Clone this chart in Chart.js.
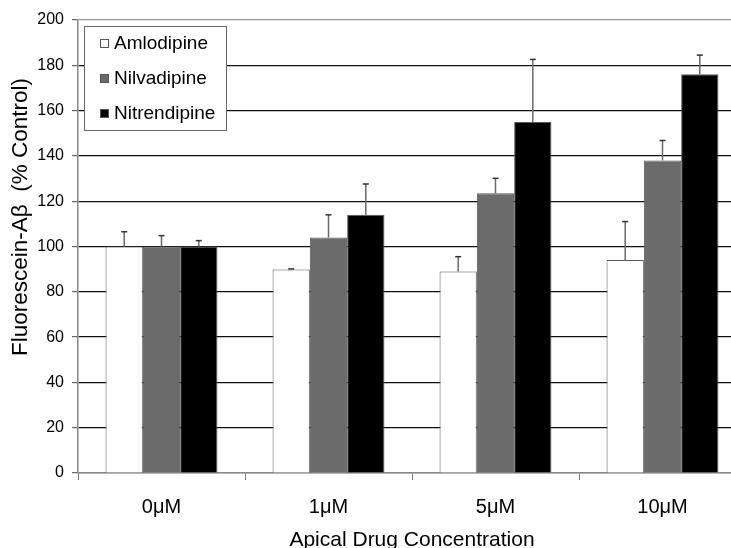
<!DOCTYPE html>
<html>
<head>
<meta charset="utf-8">
<script src="https://cdn.jsdelivr.net/npm/chart.js@4/dist/chart.umd.min.js"></script>
<style>
  html, body { margin: 0; padding: 0; background: #fff; }
  #wrap { width: 731px; height: 548px; overflow: hidden; position: relative; }
  canvas { display: block; }
</style>
</head>
<body>
<div id="wrap"><canvas id="c" width="760" height="548"></canvas></div>
<script>
// Concentrations on the x axis
const categories = ['0\u03bcM', '1\u03bcM', '5\u03bcM', '10\u03bcM'];

// Mean uptake (% of control) per drug
const amlodipine   = [100, 89.8, 89.0, 94.0];
const nilvadipine  = [100, 104.0, 123.5, 138.0];
const nitrendipine = [100, 114.0, 155.0, 176.0];

// Upper error (SD) per drug
const amlodipineErr   = [6.5, 0.3, 6.5, 17.0];
const nilvadipineErr  = [4.8, 10.0, 6.6, 8.8];
const nitrendipineErr = [2.6, 13.6, 27.6, 8.5];

// Value axis ticks
const yTicks = [0, 20, 40, 60, 80, 100, 120, 140, 160, 180, 200];

const yTitle = 'Fluorescein-A\u03b2  (% Control)';
const xTitle = 'Apical Drug Concentration';

const FONT = 'Arial, "Liberation Sans", sans-serif';

// Draws upward-only error bars with caps above each bar
const errorBars = {
  id: 'errorBars',
  afterDatasetsDraw(chart) {
    const ctx = chart.ctx;
    const y = chart.scales.y;
    chart.data.datasets.forEach((ds, i) => {
      const meta = chart.getDatasetMeta(i);
      meta.data.forEach((bar, j) => {
        const top = y.getPixelForValue(ds.data[j] + ds.errors[j]);
        const base = bar.y;
        ctx.save();
        ctx.strokeStyle = '#6a6a6a';
        ctx.lineWidth = 1.5;
        ctx.beginPath();
        ctx.moveTo(bar.x, base);
        ctx.lineTo(bar.x, top);
        ctx.stroke();
        ctx.strokeStyle = '#333';
        ctx.beginPath();
        ctx.moveTo(bar.x - 3, top);
        ctx.lineTo(bar.x + 3, top);
        ctx.stroke();
        ctx.restore();
      });
    });
  }
};

// Boxed legend in the upper-left of the plot, plus the rotated value-axis title
const boxLegend = {
  id: 'boxLegend',
  afterDraw(chart) {
    const ctx = chart.ctx;
    const x0 = 84, y0 = 26, w = 142, h = 104;
    ctx.save();
    ctx.fillStyle = '#fff';
    ctx.fillRect(x0, y0, w, h);
    ctx.strokeStyle = '#666';
    ctx.lineWidth = 1;
    ctx.strokeRect(x0 + 0.5, y0 + 0.5, w, h);
    ctx.font = '19px ' + FONT;
    ctx.textBaseline = 'middle';
    const rows = [43, 78, 113];
    chart.data.datasets.forEach((ds, i) => {
      const cy = rows[i];
      ctx.fillStyle = ds.backgroundColor;
      ctx.fillRect(100, cy - 4, 9, 9);
      ctx.strokeStyle = '#555';
      ctx.strokeRect(100.5, cy - 3.5, 8, 8);
      ctx.fillStyle = '#000';
      ctx.fillText(ds.label, 114, cy + 1);
    });
    ctx.restore();

    ctx.save();
    ctx.translate(21, 217);
    ctx.rotate(-Math.PI / 2);
    ctx.font = '22.5px ' + FONT;
    ctx.fillStyle = '#000';
    ctx.textAlign = 'center';
    ctx.textBaseline = 'middle';
    ctx.fillText(yTitle, 0, 0);
    ctx.restore();
  }
};

const barStyle = { borderColor: '#5a5a5a', borderWidth: 1, categoryPercentage: 0.67, barPercentage: 1.0 };

new Chart(document.getElementById('c'), {
  type: 'bar',
  data: {
    labels: categories,
    datasets: [
      Object.assign({ label: 'Amlodipine', data: amlodipine, errors: amlodipineErr, backgroundColor: '#ffffff' }, barStyle),
      Object.assign({ label: 'Nilvadipine', data: nilvadipine, errors: nilvadipineErr, backgroundColor: '#6b6b6b' }, barStyle),
      Object.assign({ label: 'Nitrendipine', data: nitrendipine, errors: nitrendipineErr, backgroundColor: '#000000' }, barStyle)
    ]
  },
  options: {
    responsive: false,
    animation: false,
    layout: { padding: { top: 20, right: 14, left: 0, bottom: 0 } },
    plugins: { legend: { display: false }, tooltip: { enabled: false } },
    scales: {
      x: {
        grid: { display: true, drawOnChartArea: false, drawTicks: true, tickLength: 7, tickColor: '#777', offset: true },
        border: { display: true, color: '#888', width: 1.5 },
        ticks: { color: '#000', font: { family: FONT, size: 20 }, padding: 15 },
        title: { display: true, text: xTitle, color: '#000',
                 font: { family: FONT, size: 21, lineHeight: 1.0 }, padding: { top: 0, bottom: -3 } },
        afterFit(scale) { scale.height = 75; }
      },
      y: {
        min: 0, max: 200,
        afterBuildTicks(scale) { scale.ticks = yTicks.map(v => ({ value: v })); },
        grid: {
          color: ctx => (ctx.tick && (ctx.tick.value === 200 || ctx.tick.value === 0)) ? '#999' : '#111',
          lineWidth: 1.2, tickLength: 6, tickColor: '#666'
        },
        border: { display: true, color: '#888', width: 1.5 },
        ticks: { color: '#000', font: { family: FONT, size: 16 }, padding: 8 },
        title: { display: false },
        afterFit(scale) { scale.width = 78; }
      }
    }
  },
  plugins: [errorBars, boxLegend]
});
</script>
</body>
</html>
